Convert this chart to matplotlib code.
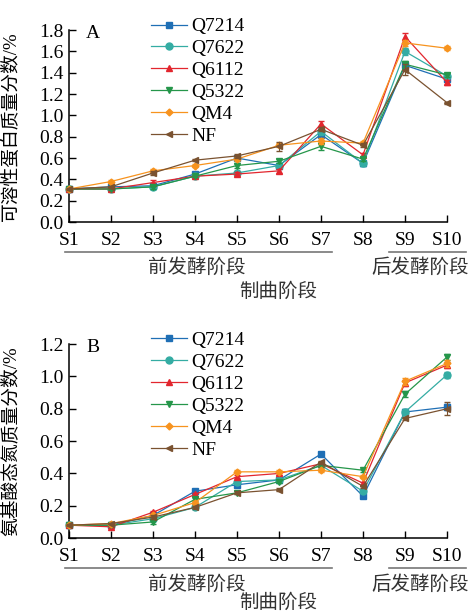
import numpy as np
import matplotlib
matplotlib.use('Agg')
import matplotlib.pyplot as plt
from matplotlib.transforms import ScaledTranslation

plt.rcParams['font.family'] = ['Liberation Serif', 'Noto Sans CJK SC']
plt.rcParams['font.size'] = 14

stages = ['S1', 'S2', 'S3', 'S4', 'S5', 'S6', 'S7', 'S8', 'S9', 'S10']
strains = ['Q7214', 'Q7622', 'Q6112', 'Q5322', 'QM4', 'NF']
colors = ['#1f6fb5', '#34aca3', '#e2262e', '#25964a', '#f7931e', '#7a5230']
markers = ['s', 'o', '^', 'v', 'D', '<']
msizes = [5, 5, 5, 5, 3.5, 5]

# A: soluble protein (%)
prot_Q7214 = [0.31, 0.33, 0.34, 0.45, 0.60, 0.53, 0.82, 0.55, 1.47, 1.34]
prot_Q7622 = [0.31, 0.31, 0.33, 0.43, 0.46, 0.53, 0.85, 0.55, 1.60, 1.37]
prot_Q6112 = [0.31, 0.31, 0.37, 0.43, 0.45, 0.48, 0.92, 0.63, 1.74, 1.31]
prot_Q5322 = [0.31, 0.31, 0.33, 0.43, 0.53, 0.57, 0.71, 0.59, 1.48, 1.38]
prot_QM4 = [0.31, 0.38, 0.48, 0.53, 0.59, 0.72, 0.76, 0.74, 1.68, 1.63]
prot_NF = [0.31, 0.33, 0.46, 0.58, 0.62, 0.71, 0.87, 0.72, 1.43, 1.12]
prot_err = [0.01, 0.01, 0.02, 0.01, 0.02, 0.02, 0.03, 0.02, 0.03, 0.02]
prot_err_NF = [0.01, 0.01, 0.02, 0.01, 0.02, 0.04, 0.02, 0.02, 0.05, 0.01]

# B: amino nitrogen (%)
amn_Q7214 = [0.08, 0.08, 0.14, 0.29, 0.33, 0.36, 0.52, 0.26, 0.78, 0.81]
amn_Q7622 = [0.08, 0.08, 0.12, 0.19, 0.35, 0.36, 0.45, 0.29, 0.78, 1.01]
amn_Q6112 = [0.08, 0.07, 0.16, 0.27, 0.38, 0.40, 0.46, 0.34, 0.96, 1.07]
amn_Q5322 = [0.08, 0.08, 0.10, 0.24, 0.28, 0.35, 0.45, 0.42, 0.89, 1.12]
amn_QM4 = [0.08, 0.09, 0.14, 0.22, 0.41, 0.41, 0.42, 0.38, 0.97, 1.08]
amn_NF = [0.08, 0.09, 0.13, 0.19, 0.28, 0.30, 0.47, 0.32, 0.74, 0.80]
amn_err = [0.005, 0.005, 0.01, 0.01, 0.01, 0.01, 0.01, 0.01, 0.02, 0.02]
amn_err_NF = [0.005, 0.005, 0.01, 0.01, 0.01, 0.01, 0.01, 0.01, 0.01, 0.04]

x = np.arange(len(stages))

fig = plt.figure(figsize=(4.71, 6.15), dpi=100)
axA = fig.add_axes([0.1465, 0.639, 0.8025, 0.312])
axB = fig.add_axes([0.1465, 0.125, 0.8025, 0.3155])


def draw(ax, series, errs, ymax, ylabel, letter, low_off):
    for i, s in enumerate(series):
        ax.errorbar(x, s, yerr=errs[i], color=colors[i], marker=markers[i],
                    ms=msizes[i], lw=0.9, elinewidth=0.8, capsize=2.5,
                    label=strains[i], clip_on=False, zorder=3 + i)
    ax.set_xlim(0, 9)
    ax.set_ylim(0, ymax)
    yt = np.arange(0, ymax + 0.01, 0.2)
    ax.set_yticks(yt)
    ax.set_yticklabels(['%.1f' % v for v in yt])
    ax.set_xticks(x)
    ax.set_xticklabels(stages)
    ax.spines['top'].set_visible(False)
    ax.spines['right'].set_visible(False)
    for sp in ['left', 'bottom']:
        ax.spines[sp].set_linewidth(1.1)
    ax.tick_params(direction='in', length=5, width=1, labelsize=14)
    ax.tick_params(axis='x', pad=7)
    ax.tick_params(axis='y', pad=4)
    ax.set_ylabel(ylabel, fontsize=13.5)
    ax.yaxis.set_label_coords(-0.13, 0.5)
    ax.text(0.045, 0.985, letter, transform=ax.transAxes, fontsize=14,
            va='center', ha='left')
    handles, labels = ax.get_legend_handles_labels()
    handles = [h[0] for h in handles]
    ax.legend(handles, labels, loc='upper left', bbox_to_anchor=(0.19, 1.115),
              frameon=False, fontsize=14, handlelength=1.9, handletextpad=0.2,
              labelspacing=0.22, borderpad=0)

    tr = ax.get_xaxis_transform()
    shift = ScaledTranslation(0, -30 / 100, fig.dpi_scale_trans)
    for x0, x1, xc, name in [(-0.1, 6.26, 3.05, '前发酵阶段'), (7.62, 9.45, 8.36, '后发酵阶段')]:
        line = plt.Line2D([x0, x1], [0, 0], color='#777777', lw=1.2,
                          clip_on=False, transform=tr + shift)
        ax.add_line(line)
        ax.annotate(name, xy=(xc, 0), xycoords=tr, xytext=(0, -46 * 0.72),
                    textcoords='offset points', ha='center', va='center',
                    fontsize=14, color='#333333')
    ax.annotate('制曲阶段', xy=(4.98, 0), xycoords=tr, xytext=(0, -low_off * 0.72),
                textcoords='offset points', ha='center', va='center',
                fontsize=14, color='#333333')


draw(axA, [prot_Q7214, prot_Q7622, prot_Q6112, prot_Q5322, prot_QM4, prot_NF],
     [prot_err] * 5 + [prot_err_NF], 1.8, '可溶性蛋白质量分数/%', 'A', 70)
draw(axB, [amn_Q7214, amn_Q7622, amn_Q6112, amn_Q5322, amn_QM4, amn_NF],
     [amn_err] * 5 + [amn_err_NF], 1.2, '氨基酸态氮质量分数/%', 'B', 65)

fig.savefig('out.png', dpi=100)
